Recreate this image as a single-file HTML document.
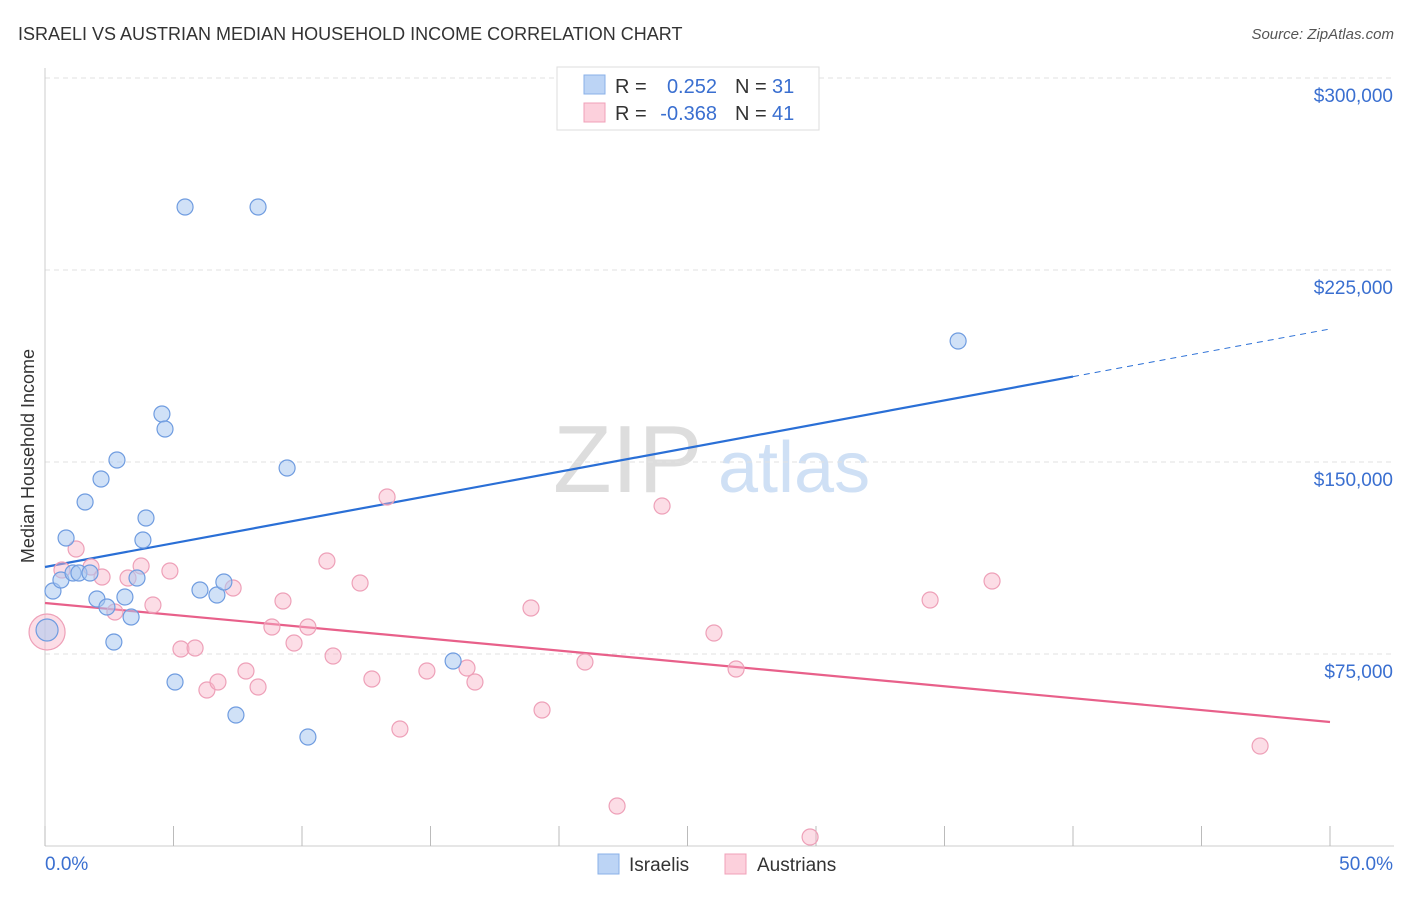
<!DOCTYPE html>
<html><head><meta charset="utf-8"><style>
body{margin:0;background:#fff;font-family:"Liberation Sans",sans-serif;}
svg text{font-family:"Liberation Sans",sans-serif;}
</style></head><body>
<svg id="chart" width="1406" height="892">
<text x="18" y="40" font-size="18" fill="#333">ISRAELI VS AUSTRIAN MEDIAN HOUSEHOLD INCOME CORRELATION CHART</text>
<text x="1394" y="39" font-size="15" fill="#555" text-anchor="end" font-style="italic">Source: ZipAtlas.com</text>
<text transform="translate(34,456) rotate(-90)" font-size="18" fill="#333" text-anchor="middle">Median Household Income</text>
<text x="553" y="492" font-size="96" fill="#ddd" font-family="Liberation Serif">ZIP</text>
<text x="718" y="492" font-size="72" fill="#cfe0f5">atlas</text>
<g id="grid"></g><g id="axes"></g><g id="lines"></g><g id="pts"></g>
<g>
<rect x="557" y="67" width="262" height="63" fill="#fff" stroke="#ddd"/>
<rect x="584" y="75" width="21" height="19" fill="#bcd4f5" stroke="#8ab0e8"/>
<rect x="584" y="103" width="21" height="19" fill="#fcd0dc" stroke="#f0a0b8"/>
<text x="615" y="93" font-size="20" fill="#333">R =</text>
<text x="717" y="93" font-size="20" fill="#3a6fd0" text-anchor="end">0.252</text>
<text x="735" y="93" font-size="20" fill="#333">N =</text>
<text x="772" y="93" font-size="20" fill="#3a6fd0">31</text>
<text x="615" y="120" font-size="20" fill="#333">R =</text>
<text x="717" y="120" font-size="20" fill="#3a6fd0" text-anchor="end">-0.368</text>
<text x="735" y="120" font-size="20" fill="#333">N =</text>
<text x="772" y="120" font-size="20" fill="#3a6fd0">41</text>
</g>
<g>
<rect x="598" y="854" width="21" height="20" fill="#bcd4f5" stroke="#8ab0e8"/>
<text x="629" y="871" font-size="19" fill="#333">Israelis</text>
<rect x="725" y="854" width="21" height="20" fill="#fcd0dc" stroke="#f0a0b8"/>
<text x="757" y="871" font-size="19" fill="#333">Austrians</text>
</g>
</svg>
<script>
const yTicks=[75000,150000,225000,300000];
const yTickLabels=["$75,000","$150,000","$225,000","$300,000"];
const israeliX=[0.08,0.31,0.62,0.82,1.09,1.32,1.56,1.75,2.02,2.18,2.41,2.68,2.80,3.11,3.35,3.58,3.81,3.93,4.55,4.67,5.06,5.45,6.03,6.69,6.96,7.43,8.29,9.42,10.23,15.88,35.53];
const israeliY=[84375,99609,103906,120313,106641,106641,134375,106641,96484,143359,93359,79688,150781,97266,89453,104688,119531,128125,168750,162891,64063,249609,100000,98047,103125,51172,249609,147656,42578,72266,197266];
const austrianX=[0.08,0.66,1.21,1.79,2.22,2.72,3.23,3.74,4.20,4.86,5.29,5.84,6.30,6.73,7.32,7.82,8.29,8.83,9.26,9.69,10.23,10.97,11.21,12.26,12.72,13.31,13.81,14.86,16.42,16.73,18.91,19.34,21.01,22.26,24.01,26.03,26.89,29.77,34.44,36.85,47.28];
const austrianY=[83594,107813,116016,108984,105078,91406,104688,109375,94141,107422,76953,77344,60938,64063,100781,68359,62109,85547,95703,79297,85547,111328,74219,102734,65234,136328,45703,68359,69531,64063,92969,53125,71875,15625,132813,83203,69141,3516,96094,103516,39063];
const israeliTrend=[108984,201953]; const israeliSolidEnd=40;
const austrianTrend=[94922,48438];
const NS='http://www.w3.org/2000/svg';
const X=v=>45+v/50*1285, Y=v=>846-v/75000*192;
function mk(tag,attrs,parent){const e=document.createElementNS(NS,tag);for(const k in attrs)e.setAttribute(k,attrs[k]);document.getElementById(parent).appendChild(e);return e;}
yTicks.forEach((t,i)=>{
 const g=mk('line',{x1:45,x2:1394,y1:Y(t),y2:Y(t),stroke:'#e2e2e2','stroke-dasharray':'5,4'},'grid');
 
 
 const l=mk('text',{x:1393,y:Y(t)+24,'font-size':19,fill:'#3a6fd0','text-anchor':'end'},'axes');l.textContent=yTickLabels[i];
 
 
});
mk('line',{x1:45,x2:45,y1:68,y2:846,stroke:'#ccc'},'axes');
mk('line',{x1:45,x2:1394,y1:846,y2:846,stroke:'#ccc'},'axes');
for(let p=0;p<=50;p+=5){const t=mk('line',{x1:X(p),x2:X(p),y1:826,y2:846,stroke:'#bbb'},'axes');
 
 }
let a=mk('text',{x:45,y:870,'font-size':19,fill:'#3a6fd0'},'axes');a.textContent='0.0%';


a=mk('text',{x:1393,y:870,'font-size':19,fill:'#3a6fd0','text-anchor':'end'},'axes');a.textContent='50.0%';


function ty(tr,x){return tr[0]+(tr[1]-tr[0])*x/50;}
let ln=mk('line',{x1:X(0),y1:Y(ty(israeliTrend,0)),x2:X(israeliSolidEnd),y2:Y(ty(israeliTrend,israeliSolidEnd)),stroke:'#2a6fd6','stroke-width':2.2},'lines');


ln=mk('line',{x1:X(israeliSolidEnd),y1:Y(ty(israeliTrend,israeliSolidEnd)),x2:X(50),y2:Y(ty(israeliTrend,50)),stroke:'#2a6fd6','stroke-width':1,'stroke-dasharray':'6,5'},'lines');


ln=mk('line',{x1:X(0),y1:Y(austrianTrend[0]),x2:X(50),y2:Y(austrianTrend[1]),stroke:'#e8608a','stroke-width':2.2},'lines');


austrianX.forEach((x,i)=>{const c=mk('circle',{cx:X(x),cy:Y(austrianY[i]),r:i===0?18:8,fill:'rgba(248,180,200,0.45)',stroke:'#eea0b8','stroke-width':1.2},'pts');
 
 });
israeliX.forEach((x,i)=>{const c=mk('circle',{cx:X(x),cy:Y(israeliY[i]),r:i===0?11:8,fill:'rgba(170,200,240,0.55)',stroke:'#6f9ce0','stroke-width':1.2},'pts');
 
 });
</script>
</body></html>
